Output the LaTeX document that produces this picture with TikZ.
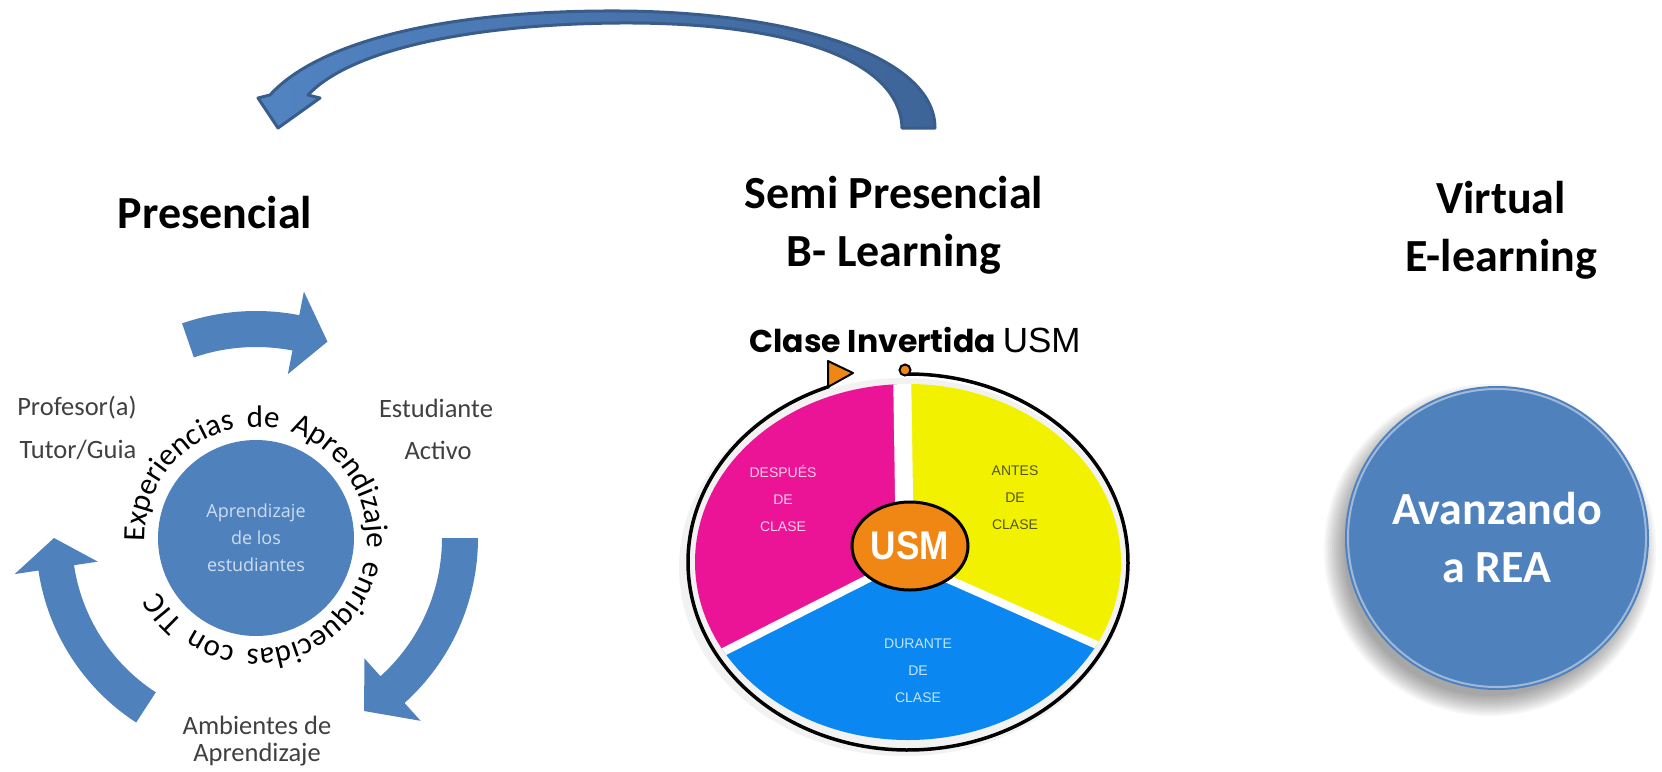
\documentclass[tikz,border=0pt]{standalone}
\usepackage{fontspec}
\setmainfont{Carlito}
\newfontfamily\popfont{Poppins}
\newfontfamily\liberfont{Liberation Sans}
\newfontfamily\opfont{Open Sans}
\usetikzlibrary{decorations.text,shapes.geometric}
\definecolor{ablue}{RGB}{79,129,189}
\definecolor{adark}{RGB}{56,93,138}
\definecolor{alight}{RGB}{82,132,194}
\definecolor{ashade}{RGB}{62,100,152}
\definecolor{labgray}{RGB}{64,64,64}
\definecolor{incircle}{RGB}{205,222,242}
\definecolor{pmag}{RGB}{236,20,150}
\definecolor{pyel}{RGB}{242,242,0}
\definecolor{pblu}{RGB}{10,135,240}
\definecolor{porg}{RGB}{240,135,20}
\definecolor{tmag}{RGB}{250,205,232}
\definecolor{tyel}{RGB}{85,85,20}
\definecolor{tblu}{RGB}{195,228,252}
\newcommand\cycarrow[5]{% center, start, base, tip, radius
  \fill[ablue,shift={#1}] (#2:#5+18) arc[start angle=#2, end angle=#3, radius=#5+18]
    -- (#3:#5+42) -- (#4:#5) -- (#3:#5-42) -- (#3:#5-18)
    arc[start angle=#3, end angle=#2, radius=#5-18] -- cycle;}
\begin{document}
\begin{tikzpicture}[x=1pt,y=1pt,
  ttl/.style={font=\fontsize{46}{57}\selectfont\bfseries, inner sep=0pt, anchor=base},
  lab/.style={font=\fontsize{26.5}{30}\selectfont, text=labgray, inner sep=0pt},
  pietxt/.style={font=\liberfont\fontsize{14}{27}\selectfont, align=center, inner sep=0pt}]
\path[use as bounding box, fill=white] (0,0) rectangle (1662,-771);

% titles
\node[ttl] (pres) at (215,-228) {Presencial};
\node[ttl] (semi) at (894,-208) {Semi Presencial};
\node[ttl] (blearn) at (894,-266) {B- Learning};
\node[ttl] (virt) at (1501,-213) {Virtual};
\node[ttl] (elearn) at (1501,-271) {E-learning};

% big top arrow
\path[draw=adark, line width=3, line join=round, left color=alight, right color=ashade]
  (935,-128) .. controls (935,-55) and (790,-12) .. (620,-11)
  .. controls (450,-10) and (320,-40) .. (270,-95)
  -- (258,-98) -- (278,-128) -- (320,-98) -- (308,-95)
  .. controls (350,-50) and (470,-24) .. (620,-23)
  .. controls (790,-22) and (900,-60) .. (902,-128) -- cycle;

% left cycle
\cycarrow{(256,-538)}{109}{79}{70}{209}
\cycarrow{(256,-538)}{0}{-48}{-58}{204}
\cycarrow{(256,-538)}{237}{188.5}{180}{202}
\node[circle, fill=ablue, minimum size=196, inner sep=0pt,
  font=\opfont\fontsize{18}{27}\selectfont, text=incircle, align=center]
  (core) at (256,-538) {Aprendizaje\\de los\\estudiantes};
\begin{scope}[shift={(256,-538)}]
  \path[decorate, decoration={text along path,
    text align={fit to path stretching spaces},
    text={|\fontsize{31}{32}\selectfont|Experiencias de Aprendizaje enriquecidas con TIC}}]
    (182:111) arc[start angle=182, end angle=-151, radius=111];
\end{scope}
\node[lab] (prof) at (77,-408) {Profesor(a)};
\node[lab] (tutor) at (78,-450) {Tutor/Guia};
\node[lab] (estu) at (436,-408) {Estudiante};
\node[lab] (activo) at (438,-450) {Activo};
\node[lab] (amb) at (257,-725) {Ambientes de};
\node[lab] (aprend) at (257,-755) {Aprendizaje};

% middle pie
\node[anchor=base, inner sep=0pt, font=\fontsize{30}{30}\selectfont] (clase) at (915,-352)
  {{\popfont\bfseries\fontsize{31.5}{32}\selectfont Clase Invertida}\hspace{7pt}{\liberfont\fontsize{35}{35}\selectfont USM}};
\fill[black, opacity=0.05] (904,-567) ellipse[x radius=225, y radius=189];
\begin{scope}
  \clip (908,-562) ellipse[x radius=213, y radius=178];
  \fill[pyel] (905,-560) -- (901,-300) -- (1300,-300) -- (1300,-735) -- cycle;
  \fill[pblu] (905,-560) -- (1300,-735) -- (1300,-900) -- (500,-900) -- (500,-765) -- cycle;
  \fill[pmag] (905,-560) -- (500,-765) -- (500,-300) -- (901,-300) -- cycle;
  \draw[white, line width=18] (905,-560) -- (901,-300);
  \draw[white, line width=8] (905,-560) -- (1300,-735);
  \draw[white, line width=8] (905,-560) -- (500,-765);
  \fill[white] (818,-384) -- (826,-396) -- (834,-384) -- cycle;
\end{scope}
\draw[line width=3.5] (908,-562) ++(91:220 and 188)
  arc[start angle=91, end angle=-249, x radius=220, y radius=188];
\draw[fill=porg, line width=2, line join=round] (828,-361) -- (853,-373) -- (828,-387) -- cycle;
\draw[fill=porg, line width=2] (905,-370) circle (5.5);
\node[ellipse, fill=porg, draw=black, line width=3, minimum width=116, minimum height=88,
  inner sep=0pt, font=\liberfont\bfseries\fontsize{40}{40}\selectfont, text=white]
  (usm) at (910,-546) {\scalebox{0.88}[1]{USM}};
\node[pietxt, text=tmag] (despues) at (783,-498) {DESPUÉS\\DE\\CLASE};
\node[pietxt, text=tyel] (antes) at (1015,-498) {ANTES\\DE\\CLASE};
\node[pietxt, text=tblu] (durante) at (918,-671) {DURANTE\\DE\\CLASE};

% right circle
\foreach \r in {146,148,...,166} \fill[black, opacity=0.035] (1490,-550) circle (\r);
\node[circle, fill=ablue, minimum size=304, inner sep=0pt] (rea) at (1497,-538) {};
\draw[white, opacity=0.45, line width=2] (1497,-538) circle (149);
\node[font=\fontsize{46}{58}\selectfont\bfseries, text=white, align=center] (reatxt) at (rea.center) {Avanzando\\a REA};
\end{tikzpicture}
\end{document}
